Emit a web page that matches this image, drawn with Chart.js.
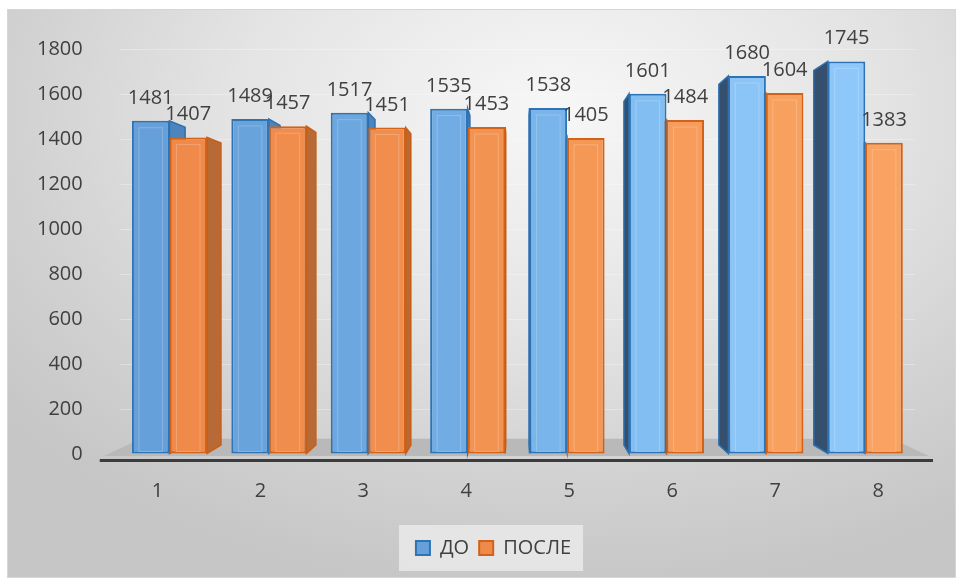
<!DOCTYPE html>
<html>
<head>
<meta charset="utf-8">
<script src="https://cdn.jsdelivr.net/npm/chart.js@4/dist/chart.umd.min.js"></script>
<style>
  body { margin: 0; background: #fff; }
  #frame {
    position: absolute; left: 7px; top: 9px; width: 947px; height: 567px;
    border: 1px solid #d6d6d6;
    background: radial-gradient(ellipse 75% 85% at 58% 18%, #f7f7f7 0%, #e4e4e4 45%, #d2d2d2 75%, #c6c6c6 100%);
  }
  #myChart { position: absolute; left: 0; top: 0; }
</style>
</head>
<body>
<div id="frame"></div>
<canvas id="myChart" width="961" height="583"></canvas>
<script>
//data
const labels = ['1', '2', '3', '4', '5', '6', '7', '8'];
const doValues = [1481, 1489, 1517, 1535, 1538, 1601, 1680, 1745];
const posleValues = [1407, 1457, 1451, 1453, 1405, 1484, 1604, 1383];
const seriesNames = ['ДО', 'ПОСЛЕ'];

//colours
const blueFill = ['#66a0da', '#68a3dc', '#6ca7e0', '#72ace4', '#79b4ea', '#83bef2', '#8bc5f7', '#8ec8fa'];
const orangeFill = ['#ef8a4a', '#f08c4c', '#f18e4e', '#f39352', '#f59856', '#f79c5a', '#f8a05e', '#f9a261'];
const font = 'Open Sans';
const legendShift = 36;

// fake 3d: side faces + floor behind the fronts
const bars3d = {
  id: 'bars3d',
  afterLayout(chart) {
    const lg = chart.legend;
    if (!lg) return;
    lg.left += legendShift; lg.right += legendShift;
    lg.legendHitBoxes.forEach(h => { h.left += legendShift; });
  },
  beforeDraw(chart) {
    const lg = chart.legend;
    if (!lg || !lg.legendHitBoxes.length) return;
    const hb = lg.legendHitBoxes;
    const l = hb[0].left - 17, r = hb[hb.length - 1].left + hb[hb.length - 1].width + 12;
    const cy = hb[0].top + hb[0].height / 2;
    const ctx = chart.ctx;
    ctx.save();
    ctx.fillStyle = 'rgba(238,238,238,0.75)';
    ctx.fillRect(l, cy - 23, r - l, 46);
    ctx.restore();
  },
  beforeDatasetsDraw(chart) {
    const ctx = chart.ctx, a = chart.chartArea;
    const vpx = (a.left + a.right) / 2, vpy = a.top + (a.bottom - a.top) * 0.53;
    const bk = (px, py, k) => [px + (vpx - px) * k, py + (vpy - py) * k];
    ctx.save();
    // floor
    const fl = a.left - 16, fr = a.right + 14, fy = a.bottom + 2;
    const p1 = bk(fl, fy, 0.09), p2 = bk(fr, fy, 0.09);
    ctx.fillStyle = '#b9b9b9';
    ctx.beginPath();
    ctx.moveTo(fl, fy); ctx.lineTo(fr, fy); ctx.lineTo(p2[0], p2[1]); ctx.lineTo(p1[0], p1[1]);
    ctx.closePath(); ctx.fill();
    ctx.fillStyle = '#3c3c3c';
    ctx.fillRect(fl - 4, fy + 3, fr - fl + 8, 3);
    // sides
    const k = 0.045;
    chart.data.datasets.forEach((ds, di) => {
      const meta = chart.getDatasetMeta(di);
      meta.data.forEach((el) => {
        const {x, y, base, width} = el.getProps(['x', 'y', 'base', 'width'], true);
        const x1 = x - width / 2, x2 = x + width / 2;
        let ex = null, col;
        if (x2 < vpx - 1) { ex = x2; col = di === 0 ? '#4c84bd' : '#b86a36'; }
        else if (x1 > vpx + 1) { ex = x1; col = di === 0 ? '#34506e' : '#c4703a'; }
        if (ex === null) return;
        const bt = bk(ex, y, k), bb = bk(ex, base, k);
        ctx.beginPath();
        ctx.moveTo(ex, y); ctx.lineTo(ex, base); ctx.lineTo(bb[0], bb[1]); ctx.lineTo(bt[0], bt[1]);
        ctx.closePath();
        ctx.fillStyle = col; ctx.fill();
        ctx.lineWidth = 1.5;
        ctx.strokeStyle = di === 0 ? '#2e6fae' : '#c85d15';
        ctx.stroke();
      });
    });
    ctx.restore();
  },
  afterDatasetsDraw(chart) {
    const ctx = chart.ctx;
    ctx.save();
    chart.data.datasets.forEach((ds, di) => {
      const meta = chart.getDatasetMeta(di);
      meta.data.forEach((el, i) => {
        const {x, y, base, width} = el.getProps(['x', 'y', 'base', 'width'], true);
        // inner bevel
        ctx.strokeStyle = 'rgba(255,255,255,0.22)';
        ctx.lineWidth = 1;
        ctx.strokeRect(x - width / 2 + 7, y + 7, width - 14, base - y - 9);
        // value label
        ctx.fillStyle = '#404040';
        ctx.font = '20px "' + font + '"';
        ctx.textAlign = 'center';
        ctx.textBaseline = 'alphabetic';
        ctx.fillText(ds.data[i], x, y - 17);
      });
    });
    ctx.restore();
  }
};

//config
const data = {
  labels: labels,
  datasets: [{
    label: seriesNames[0],
    data: doValues,
    backgroundColor: blueFill,
    borderColor: '#2e74b5',
    borderWidth: 2,
    borderSkipped: false,
    categoryPercentage: 0.755,
    barPercentage: 1
  }, {
    label: seriesNames[1],
    data: posleValues,
    backgroundColor: orangeFill,
    borderColor: '#d0621a',
    borderWidth: 2,
    borderSkipped: false,
    categoryPercentage: 0.755,
    barPercentage: 1
  }]
};

const config = {
  type: 'bar',
  data: data,
  options: {
    responsive: false,
    animation: false,
    layout: { padding: { left: 0, right: 46, top: 49, bottom: 15 } },
    scales: {
      x: { type: 'category', display: false, offset: true },
      xl: {
        type: 'linear', position: 'bottom', bounds: 'data', offset: false,
        min: 0.6345, max: 8.3578,
        grid: { display: false, drawTicks: false, offset: false },
        border: { display: false },
        afterBuildTicks: (scale) => { scale.ticks = labels.map((l, i) => ({ value: i + 1 })); },
        ticks: {
          padding: 25,
          color: '#404040', font: { family: font, size: 20, lineHeight: 1.2 },
          callback: (v) => labels[Math.round(v) - 1]
        }
      },
      y: {
        min: 0, max: 1800,
        border: { display: false },
        grid: { color: 'rgba(255,255,255,0.3)', drawTicks: false },
        ticks: {
          stepSize: 200, padding: 37, color: '#404040', font: { family: font, size: 20 },
          callback: (v) => String(v)
        }
      }
    },
    plugins: {
      tooltip: { enabled: false },
      legend: {
        position: 'bottom',
        labels: {
          boxWidth: 14, boxHeight: 14, padding: 10,
          color: '#404040', font: { family: font, size: 20, lineHeight: 1.2 }
        }
      }
    }
  },
  plugins: [bars3d]
};

//start
const myChart = new Chart(document.getElementById('myChart'), config);
</script>
</body>
</html>
